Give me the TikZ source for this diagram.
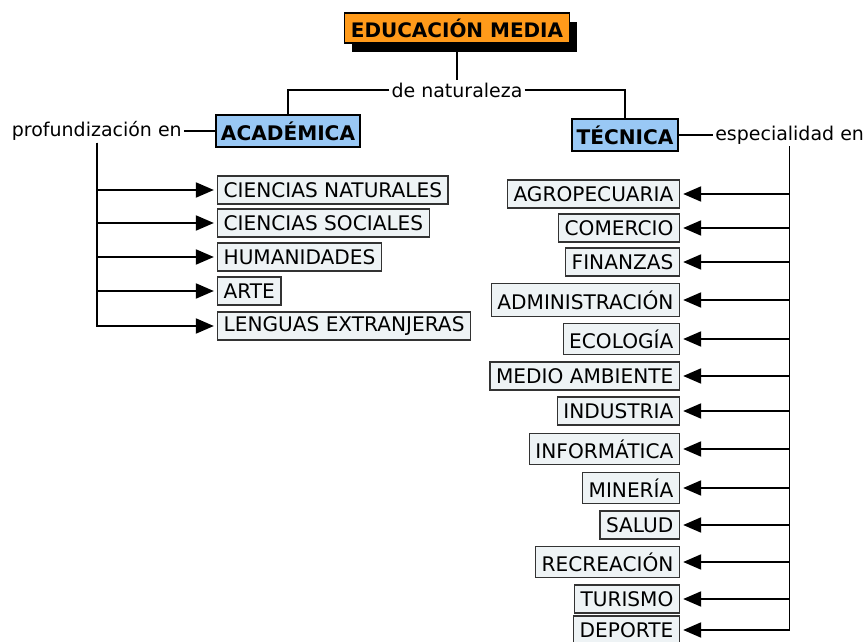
\documentclass[tikz,border=0pt]{standalone}
\usepackage{fontspec}
\setmainfont{DejaVu Sans}
\usepackage{tikz}
\usetikzlibrary{arrows.meta,positioning,shadows}
\definecolor{naranja}{HTML}{FF9A1A}
\definecolor{celeste}{HTML}{99C8F5}
\definecolor{grisclaro}{HTML}{EEF3F5}
\tikzset{
  raiz/.style={draw=black,line width=1.2pt,fill=naranja,font=\fontsize{14.2}{16}\selectfont\bfseries,
    minimum height=0.75cm,inner xsep=0.16cm,
    drop shadow={shadow xshift=0.18cm,shadow yshift=-0.22cm,fill=black,opacity=1}},
  tipo/.style={draw=black,line width=1.2pt,fill=celeste,font=\fontsize{14.3}{16}\selectfont\bfseries,
    minimum height=0.8cm,inner xsep=0.12cm},
  rama/.style={draw=black!80,line width=0.9pt,fill=grisclaro,font=\fontsize{14.3}{16}\selectfont,
    minimum height=0.7cm,inner xsep=0.15cm,inner ysep=0pt},
  enlace/.style={font=\fontsize{13.5}{16}\selectfont,inner sep=0.05cm},
  linea/.style={line width=1pt},
  flecha/.style={line width=1pt,-{Triangle[length=0.45cm,width=0.38cm]},shorten >=0.08cm}
}
\begin{document}
\begin{tikzpicture}[x=0.025cm,y=-0.025cm]
\useasboundingbox (0,0) rectangle (867,642);
% raiz
\node[raiz] (edu) at (457,28) {EDUCACIÓN MEDIA};
\node[enlace] (nat) at (457,90) {de naturaleza};
\draw[linea] (edu.south) -- (nat.north);
% tipos
\node[tipo] (aca) at (288,131) {ACADÉMICA};
\node[tipo] (tec) at (625,135) {TÉCNICA};
\draw[linea] (nat.west) -| (aca.north);
\draw[linea] (nat.east) -| (tec.north);
\node[enlace,anchor=east] (prof) at (184,131) {profundización en};
\node[enlace,anchor=west] (esp) at (713,135) {especialidad en};
\draw[linea] (prof.east) -- (aca.west);
\draw[linea] (tec.east) -- (esp.west);
% academica
\node[rama,anchor=west] (cn) at (217,190) {CIENCIAS NATURALES};
\node[rama,anchor=west] (cs) at (217,223) {CIENCIAS SOCIALES};
\node[rama,anchor=west] (hum) at (217,257) {HUMANIDADES};
\node[rama,anchor=west] (arte) at (217,291) {ARTE};
\node[rama,anchor=west] (len) at (217,326) {LENGUAS EXTRANJERAS};
\foreach \n in {cn,cs,hum,arte,len}
  \draw[flecha] (prof.south) |- (\n.west);
% tecnica
\node[rama,anchor=east] (agro) at (680,194) {AGROPECUARIA};
\node[rama,anchor=east] (com) at (680,228) {COMERCIO};
\node[rama,anchor=east] (fin) at (680,262) {FINANZAS};
\node[rama,anchor=east,minimum height=0.82cm] (adm) at (680,300) {ADMINISTRACIÓN};
\node[rama,anchor=east,minimum height=0.78cm] (eco) at (680,339) {ECOLOGÍA};
\node[rama,anchor=east] (medio) at (680,376) {MEDIO AMBIENTE};
\node[rama,anchor=east] (ind) at (680,411) {INDUSTRIA};
\node[rama,anchor=east,minimum height=0.78cm] (inf) at (680,449) {INFORMÁTICA};
\node[rama,anchor=east,minimum height=0.78cm] (min) at (680,488) {MINERÍA};
\node[rama,anchor=east] (sal) at (680,525) {SALUD};
\node[rama,anchor=east,minimum height=0.78cm] (rec) at (680,562) {RECREACIÓN};
\node[rama,anchor=east] (tur) at (680,599) {TURISMO};
\node[rama,anchor=east] (dep) at (680,630) {DEPORTE};
\foreach \n in {agro,com,fin,adm,eco,medio,ind,inf,min,sal,rec,tur,dep}
  \draw[flecha] (esp.south) |- (\n.east);
\end{tikzpicture}
\end{document}
